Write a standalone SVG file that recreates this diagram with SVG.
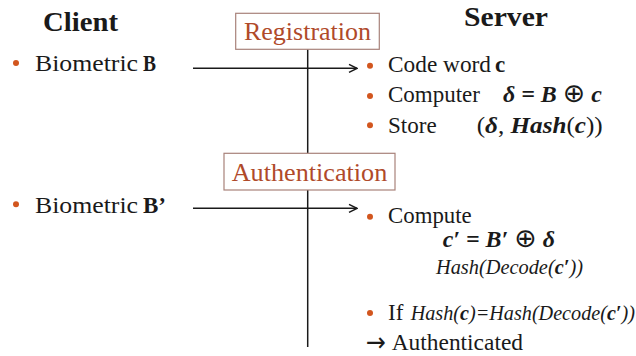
<svg xmlns="http://www.w3.org/2000/svg" width="636" height="356" viewBox="0 0 636 356">
<style>
text{font-family:"Liberation Serif","DejaVu Serif",serif;fill:#1a1a1a}
.h{font-size:28px;font-weight:bold}
.t{font-size:23px}
.m{font-size:23px;font-weight:bold;font-style:italic}
.i{font-size:20px;font-style:italic}
.op{font-family:"DejaVu Sans",sans-serif;font-style:normal;font-weight:normal;font-size:26px}
.lbl{font-size:25px;fill:#B04A2A}
.box{fill:#fff;stroke:#A8827A;stroke-width:1.2}
.dot{fill:#D2561E}
.conn{stroke:#1a1a1a;stroke-width:1.5;fill:none}
.arr{font-family:"DejaVu Sans",sans-serif;font-size:26px}
</style>
<defs>
<marker id="ah" markerWidth="10" markerHeight="10" refX="9" refY="5" orient="auto" markerUnits="userSpaceOnUse">
<path d="M1,1 L9,5 L1,9" fill="none" stroke="#1a1a1a" stroke-width="1.5"/>
</marker>
</defs>
<rect width="636" height="356" fill="#fff"/>
<g id="connectors">
<line class="conn" x1="307.7" y1="49" x2="307.7" y2="153"/>
<line class="conn" x1="307.7" y1="190" x2="307.7" y2="347"/>
<line class="conn" x1="193" y1="68.3" x2="357" y2="68.3" marker-end="url(#ah)"/>
<line class="conn" x1="193" y1="208.3" x2="357" y2="208.3" marker-end="url(#ah)"/>
</g>
<g id="client-title"><text class="h" x="43" y="31" textLength="75" lengthAdjust="spacingAndGlyphs">Client</text></g>
<g id="server-title"><text class="h" x="464" y="26" textLength="84" lengthAdjust="spacingAndGlyphs">Server</text></g>
<g id="registration">
<rect class="box" x="235.7" y="13.3" width="143.6" height="36"/>
<text class="lbl" x="244" y="40" textLength="127" lengthAdjust="spacingAndGlyphs">Registration</text>
</g>
<g id="authentication">
<rect class="box" x="224" y="153.3" width="171" height="36.7"/>
<text class="lbl" x="231.7" y="180.7" textLength="155.6" lengthAdjust="spacingAndGlyphs">Authentication</text>
</g>
<g id="client-b">
<circle class="dot" cx="16" cy="63" r="3"/>
<text class="t" x="35" y="71" textLength="103" lengthAdjust="spacingAndGlyphs">Biometric</text>
<text class="t" x="143" y="71" font-weight="bold" textLength="13" lengthAdjust="spacingAndGlyphs">B</text>
</g>
<g id="client-b2">
<circle class="dot" cx="16" cy="204.3" r="3"/>
<text class="t" x="35" y="212.7" textLength="103" lengthAdjust="spacingAndGlyphs">Biometric</text>
<text class="t" x="143" y="212.7" font-weight="bold">B’</text>
</g>
<g id="server-reg">
<circle class="dot" cx="370" cy="65.7" r="3"/>
<text class="t" x="388" y="72.3" textLength="103" lengthAdjust="spacingAndGlyphs">Code word</text>
<text class="t" x="495" y="72.3" font-weight="bold">c</text>
<circle class="dot" cx="370" cy="96" r="3"/>
<text class="t" x="388" y="102" textLength="92" lengthAdjust="spacingAndGlyphs">Computer</text>
<text class="m" x="503" y="102" textLength="99" lengthAdjust="spacingAndGlyphs">δ = B <tspan class="op">⊕</tspan> c</text>
<circle class="dot" cx="370" cy="125.3" r="3"/>
<text class="t" x="388" y="132.7" textLength="48.7" lengthAdjust="spacingAndGlyphs">Store</text>
<text class="t" x="476.7" y="132.7" textLength="126" lengthAdjust="spacingAndGlyphs">(<tspan class="m">δ</tspan>, <tspan class="m">Hash</tspan>(<tspan class="m">c</tspan>))</text>
</g>
<g id="server-auth">
<circle class="dot" cx="370" cy="216.7" r="3"/>
<text class="t" x="388" y="222.7" textLength="83.7" lengthAdjust="spacingAndGlyphs">Compute</text>
<text class="m" x="442.7" y="246.7" textLength="112.3" lengthAdjust="spacingAndGlyphs">c′ = B′ <tspan class="op">⊕</tspan> δ</text>
<text class="i" x="436" y="274" textLength="147" lengthAdjust="spacingAndGlyphs">Hash(Decode(<tspan font-weight="bold">c′</tspan>))</text>
<circle class="dot" cx="370" cy="313" r="3"/>
<text class="t" x="388" y="320">If</text>
<text class="i" x="410.7" y="320" font-size="21" textLength="224.3" lengthAdjust="spacingAndGlyphs">Hash(<tspan font-weight="bold">c</tspan>)=Hash(Decode(<tspan font-weight="bold">c′</tspan>))</text>
<text class="arr" x="366" y="351" textLength="20" lengthAdjust="spacingAndGlyphs">→</text>
<text class="t" x="391.7" y="350" textLength="131.3" lengthAdjust="spacingAndGlyphs">Authenticated</text>
</g>
</svg>
